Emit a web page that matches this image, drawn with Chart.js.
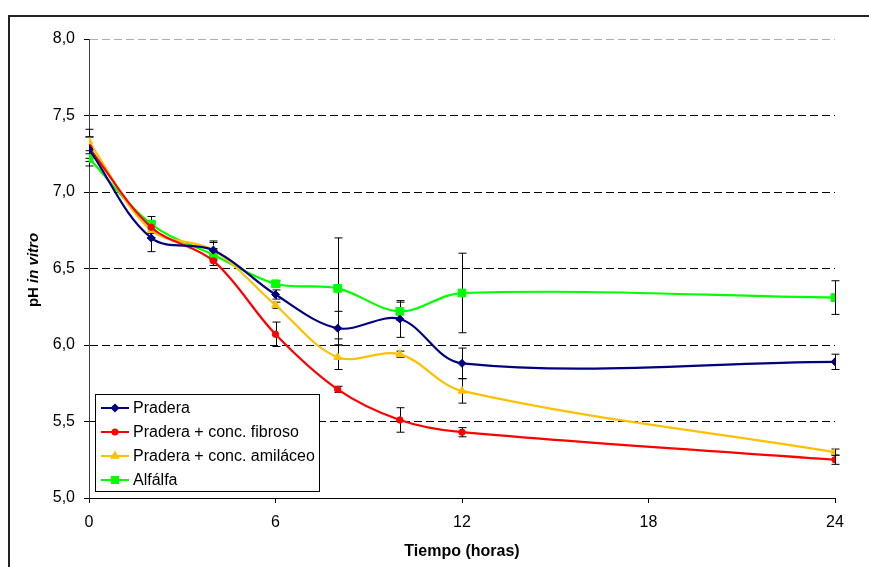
<!DOCTYPE html>
<html>
<head>
<meta charset="utf-8">
<script src="https://cdn.jsdelivr.net/npm/chart.js@4"></script>
<style>
  html, body { margin: 0; padding: 0; background: #fff; overflow: hidden; }
  #wrap { position: relative; width: 869px; height: 567px; }
  #frame {
    position: absolute; left: 8px; top: 15px; width: 900px; height: 600px;
    border: 2px solid #222; box-sizing: border-box; pointer-events: none;
  }
  canvas { position: absolute; left: 0; top: 0; }
</style>
</head>
<body>
<div id="wrap">
  <div id="frame"></div>
  <canvas id="phChart" width="869" height="567"></canvas>
</div>
<script>
// pH in vitro over time, four diets (mean ± error)
const horas = [0, 2, 4, 6, 8, 10, 12, 24];
const xTicks = [0, 6, 12, 18, 24];
const yTicks = [5.0, 5.5, 6.0, 6.5, 7.0, 7.5, 8.0];

const pradera    = [7.28, 6.70, 6.62, 6.33, 6.11, 6.17, 5.88, 5.89];
const praderaErr = [0.08, 0.09, 0.06, 0.03, 0.11, 0.12, 0.10, 0.05];

const fibroso    = [7.29, 6.77, 6.55, 6.07, 5.71, 5.51, 5.43, 5.25];
const fibrosoErr = [0.07, 0.04, 0.03, 0.08, 0.02, 0.08, 0.03, 0.03];

const amilaceo    = [7.33, 6.75, 6.62, 6.26, 5.92, 5.94, 5.70, 5.30];
const amilaceoErr = [0.08, 0.05, 0.05, 0.02, 0.08, 0.02, 0.08, 0.02];

const alfalfa    = [7.22, 6.79, 6.59, 6.40, 6.37, 6.22, 6.34, 6.31];
const alfalfaErr = [0.05, 0.05, 0.04, 0.02, 0.33, 0.06, 0.26, 0.11];

const FONT = 'Liberation Sans, Arial, sans-serif';

function series(label, values, errs, color, style, radius) {
  return {
    label,
    data: horas.map((h, i) => ({ x: h, y: values[i] })),
    errors: errs,
    borderColor: color,
    backgroundColor: color,
    borderWidth: 2.2,
    pointStyle: style,
    pointRadius: radius,
    pointBorderWidth: 1,
    tension: 0.35,
    fill: false
  };
}

const datasets = [
  series('Pradera', pradera, praderaErr, '#000080', 'rectRot', 4),
  series('Pradera + conc. fibroso', fibroso, fibrosoErr, '#ff0000', 'circle', 3.2),
  series('Pradera + conc. amiláceo', amilaceo, amilaceoErr, '#ffc000', 'triangle', 4.5),
  series('Alfálfa', alfalfa, alfalfaErr, '#00ff00', 'rect', 5.5)
];

// error bars under the markers
const errorBars = {
  id: 'errorBars',
  beforeDatasetsDraw(chart) {
    const { ctx, scales: { x, y } } = chart;
    ctx.save();
    ctx.strokeStyle = '#000';
    ctx.lineWidth = 1;
    chart.data.datasets.forEach(ds => {
      ds.data.forEach((p, i) => {
        const e = ds.errors[i];
        const px = Math.round(x.getPixelForValue(p.x)) + 0.5;
        const top = y.getPixelForValue(p.y + e);
        const bot = y.getPixelForValue(p.y - e);
        ctx.beginPath();
        ctx.moveTo(px, top); ctx.lineTo(px, bot);
        ctx.moveTo(px - 4, top); ctx.lineTo(px + 4, top);
        ctx.moveTo(px - 4, bot); ctx.lineTo(px + 4, bot);
        ctx.stroke();
      });
    });
    ctx.restore();
  }
};

// boxed legend and mixed-style y title
const extras = {
  id: 'extras',
  afterDraw(chart) {
    const { ctx } = chart;
    ctx.save();

    // y axis title: "pH in vitro"
    ctx.translate(34, 270);
    ctx.rotate(-Math.PI / 2);
    ctx.fillStyle = '#000';
    ctx.textBaseline = 'middle';
    const a = 'pH ', b = 'in vitro';
    ctx.font = 'bold 15px ' + FONT;
    const wa = ctx.measureText(a).width;
    ctx.font = 'italic bold 15px ' + FONT;
    const wb = ctx.measureText(b).width;
    let sx = -(wa + wb) / 2;
    ctx.font = 'bold 15px ' + FONT;
    ctx.fillText(a, sx, 0);
    ctx.font = 'italic bold 15px ' + FONT;
    ctx.fillText(b, sx + wa, 0);
    ctx.setTransform(1, 0, 0, 1, 0, 0);

    // legend box
    const bx = 95.5, by = 394.5, bw = 224, bh = 97;
    ctx.fillStyle = '#fff';
    ctx.fillRect(bx, by, bw, bh);
    ctx.strokeStyle = '#000';
    ctx.lineWidth = 1;
    ctx.strokeRect(bx, by, bw, bh);
    ctx.font = '16px ' + FONT;
    ctx.textBaseline = 'middle';
    chart.data.datasets.forEach((ds, i) => {
      const cy = 408 + i * 24;
      ctx.strokeStyle = ds.borderColor;
      ctx.lineWidth = 2;
      ctx.beginPath();
      ctx.moveTo(101, cy); ctx.lineTo(129, cy);
      ctx.stroke();
      ctx.fillStyle = ds.backgroundColor;
      Chart.helpers.drawPoint(ctx, {
        pointStyle: ds.pointStyle,
        radius: ds.pointRadius * 0.8,
        rotation: 0,
        borderWidth: 1
      }, 115, cy);
      ctx.fillStyle = '#000';
      ctx.fillText(ds.label, 133, cy + 1);
    });
    ctx.restore();
  }
};

new Chart(document.getElementById('phChart'), {
  type: 'line',
  data: { datasets },
  options: {
    responsive: false,
    animation: false,
    layout: { padding: { top: 39, right: 34, left: 0, bottom: 0 } },
    plugins: { legend: { display: false }, tooltip: { enabled: false } },
    scales: {
      x: {
        type: 'linear',
        min: 0, max: 24,
        afterBuildTicks: s => { s.ticks = xTicks.map(v => ({ value: v })); },
        afterFit: s => { s.height = 69; },
        grid: { drawOnChartArea: false, drawTicks: true, tickLength: 5, tickColor: '#000' },
        border: { color: '#000', width: 1 },
        ticks: { color: '#000', padding: 10, font: { family: FONT, size: 16 } },
        title: {
          display: true, text: 'Tiempo (horas)', color: '#000',
          font: { family: FONT, size: 16, weight: 'bold' },
          padding: { top: 0, bottom: 6 }
        }
      },
      y: {
        min: 5, max: 8,
        afterBuildTicks: s => { s.ticks = yTicks.map(v => ({ value: v })); },
        afterFit: s => { s.width = 89; },
        grid: {
          color: c => (c.tick && c.tick.value === 8 ? '#b0b0b0' : '#000'),
          lineWidth: 1,
          tickLength: 5,
          tickColor: '#000',
          tickBorderDash: []
        },
        border: { color: '#404040', width: 1, dash: [8, 4] },
        ticks: {
          color: '#000', padding: 9,
          font: { family: FONT, size: 16 },
          callback: v => v.toFixed(1).replace('.', ',')
        }
      }
    }
  },
  plugins: [errorBars, extras]
});
</script>
</body>
</html>
